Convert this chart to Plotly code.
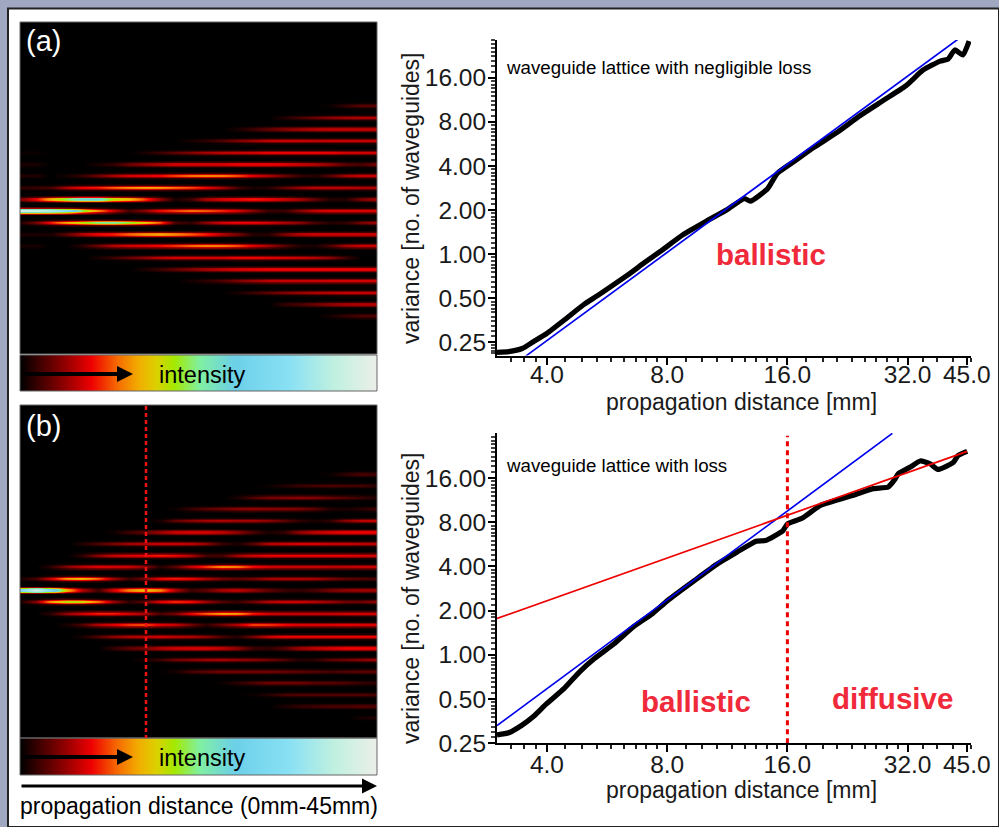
import math
import plotly.graph_objects as go

W, H = 999, 827

# ---------- data ----------
col_frac = [i / 23 for i in range(24)]
lanes_a = {
 9: [0]*20 + [.01,.05,.08,.08],
 8: [0]*17 + [.03,.06,.09,.12,.14,.15,.15],
 7: [0]*14 + [.02,.05,.08,.11,.13,.15,.16,.16,.16,.16],
 6: [0]*11 + [.02,.04,.07,.11,.14,.17,.18,.18,.17,.18,.18,.18,.18],
 5: [.01,.01]+[0]*6 + [.02,.05,.08,.11,.14,.16,.17,.18,.2,.2,.2,.2,.2,.18,.18,.18],
 4: [.02,.02,0,0,0,.02,.04,.09,.12,.15,.18,.18,.18,.18,.2,.2,.2,.19,.17,.15,.12,.07,.06,.1],
 3: [.03,.03,0,.02,.05,.1,.15,.19,.2,.22,.26,.3,.32,.31,.27,.2,.16,.1,.05,.03,.08,.15,.18,.18],
 2: [.04,.05,.06,.15,.2,.22,.27,.31,.33,.32,.28,.25,.2,.14,.06,.02,.03,.08,.13,.16,.16,.16,.15,.15],
 1: [.1,.2,.35,.48,.58,.58,.42,.36,.25,.12,.02,.05,.14,.18,.2,.22,.2,.17,.14,.08,.03,.03,.1,.14],
 0: [1,.97,.9,.8,.5,.32,.18,.06,.12,.22,.26,.3,.28,.24,.2,.12,.05,.05,.12,.18,.2,.2,.2,.2],
 -1: [.03,.1,.22,.34,.42,.5,.52,.46,.38,.26,.06,.04,.12,.18,.2,.2,.18,.15,.12,.06,.03,.04,.1,.14],
 -2: [.02,.02,.02,.08,.15,.2,.22,.27,.31,.33,.3,.26,.22,.15,.1,.03,.03,.1,.15,.17,.17,.17,.17,.17],
 -3: [.02,.02,0,0,.04,.1,.16,.19,.2,.22,.25,.29,.32,.31,.27,.2,.15,.08,.03,.02,.07,.15,.18,.18],
 -4: [0,0,0,0,0,.02,.05,.09,.12,.16,.18,.18,.18,.18,.2,.2,.19,.18,.17,.15,.12,.05,0,0],
 -5: [0]*8 + [.02,.05,.08,.11,.14,.16,.18,.19,.2,.2,.2,.2,.2,.2,.2,.2],
 -6: [0]*11 + [.02,.04,.07,.11,.14,.17,.18,.18,.18,.19,.19,.19,.19],
 -7: [0]*14 + [.02,.05,.08,.11,.13,.15,.16,.17,.17,.17],
 -8: [0]*17 + [.04,.06,.09,.12,.14,.15,.15],
 -9: [0]*20 + [.02,.05,.07,.07],
}
lanes_b = {
 10: [0]*20 + [.01,.04,.06,.05],
 9: [0]*16 + [.01,.03,.05,.06,.07,.06,.06,.04],
 8: [0]*14 + [.02,.07,.1,.11,.12,.11,.09,.07,.05,.03],
 7: [0]*10 + [.01,.05,.08,.1,.12,.13,.12,.12,.11,.08,.03,.02,.04,.06],
 6: [0]*9 + [.02,.08,.12,.14,.15,.14,.14,.12,.08,.04,.02,.04,.12,.16,.17],
 5: [0]*6 + [.01,.05,.08,.13,.17,.18,.18,.16,.12,.06,.02,.04,.12,.16,.18,.2,.2,.2],
 4: [0]*4 + [.03,.07,.11,.14,.16,.18,.18,.17,.13,.05,.02,.08,.16,.18,.19,.19,.18,.18,.17,.17],
 3: [0]*4 + [.04,.12,.17,.19,.2,.22,.2,.15,.06,.06,.14,.18,.2,.2,.2,.2,.2,.2,.19,.18],
 2: [0,0,.04,.12,.17,.2,.19,.18,.13,.03,.08,.18,.25,.33,.31,.22,.19,.18,.18,.18,.17,.17,.18,.18],
 1: [.02,.06,.18,.32,.36,.27,.14,.05,.1,.2,.22,.2,.15,.1,.08,.1,.14,.15,.15,.14,.11,.08,.07,.06],
 0: [.7,.95,.72,.35,.15,.05,.18,.3,.36,.3,.15,.05,.08,.14,.16,.12,.08,.05,.04,.06,.1,.12,.13,.13],
 -1: [.02,.12,.34,.45,.43,.3,.14,.04,.08,.2,.24,.22,.14,.07,.05,.1,.16,.18,.18,.16,.14,.1,.1,.13],
 -2: [0,0,.04,.13,.18,.22,.22,.18,.15,.06,.1,.2,.27,.33,.32,.22,.18,.17,.17,.17,.17,.18,.18,.18],
 -3: [0,0,0,.02,.07,.16,.2,.25,.27,.2,.18,.1,.04,.1,.16,.26,.25,.22,.2,.2,.2,.21,.2,.2],
 -4: [0]*4 + [.02,.07,.12,.15,.16,.18,.16,.15,.12,.06,.03,.1,.17,.2,.2,.2,.2,.2,.2,.2],
 -5: [0]*6 + [.04,.08,.1,.15,.17,.18,.18,.16,.12,.05,.04,.07,.13,.16,.18,.2,.2,.2],
 -6: [0]*8 + [.02,.05,.1,.12,.14,.15,.13,.12,.1,.07,.03,.04,.08,.1,.12,.14],
 -7: [0]*10 + [.02,.06,.08,.1,.1,.1,.1,.09,.08,.07,.06,.07,.08,.08],
 -8: [0]*13 + [.01,.04,.07,.1,.1,.1,.08,.08,.07,.05,.04],
 -9: [0]*15 + [.01,.03,.06,.07,.07,.07,.07,.07,.06],
 -10: [0]*17 + [.02,.04,.05,.06,.06,.07,.06],
 -11: [0]*22 + [.02,.03],
}
bar_ramp = [0, .05, .1, .15, .2, .25, .3, .35, .4, .45, .5, .55, .6, .65, .7, .75, .8, .85, .9, .95, 1]

var_a_x = [3.0,3.21,3.47,3.7,4,4.42,4.93,5.39,6.3,7.03,7.69,8.77,10.02,11.32,12.5,12.92,14.27,15.09,16.67,18.6,21.26,24.27,27.7,31.65,35,38.6,40.4,42,44,45.6]
var_a_y = [.2135,.216,.227,.2527,.288,.355,.45,.527,.705,.878,1.045,1.36,1.68,2.02,2.4,2.3,2.8,3.56,4.32,5.34,6.76,8.8,11.14,14.1,18.1,20.8,21.5,24.8,22.9,28.5]
fit_a_x = [3.54, 42.8]
fit_a_y = [.2015, 29.4]

var_b_x = [3.0,3.21,3.47,3.7,4,4.42,4.83,5.26,5.89,6.58,7.35,8.03,9.37,10.7,11.96,13.36,14.1,15.6,16,17.4,19.35,23.4,26.2,28.6,29.8,30.3,32.5,34.4,36.4,38.1,41.6,42.8,45.1]
var_b_y = [.285,.295,.333,.38,.467,.591,.767,.944,1.19,1.55,1.91,2.35,3.21,4.17,5,5.94,6,7.02,7.79,8.51,10.4,12.2,13.55,13.9,15.85,17.1,19,20.9,20,18.3,20.4,22.8,24.3]
ball_b_x = [3.0, 29.3]
ball_b_y = [.33, 32.2]
diff_b_x = [3.0, 45.1]
diff_b_y = [1.77, 24.3]
cross_x = [16, 16]
cross_y = [.25, 31]

x_ticks = [4, 8, 16, 32, 45]
x_tick_text = ["4.0", "8.0", "16.0", "32.0", "45.0"]
y_ticks = [.25, .5, 1, 2, 4, 8, 16]
y_tick_text = ["0.25", "0.50", "1.00", "2.00", "4.00", "8.00", "16.00"]
x_minor = [3.25, 3.5, 3.75, 4.45, 4.9, 5.33, 5.8, 6.25, 6.67, 7.1, 7.55, 8.9, 9.8, 10.65, 11.6, 12.5, 13.35, 14.2, 15.1,
           17.8, 19.6, 21.3, 23.2, 25, 26.7, 28.4, 30.2, 35, 38, 41.5, 46]
y_minor = ([.2 + .01*i for i in range(5)] + [.25 + .025*i for i in range(10)] + [.5 + .05*i for i in range(10)]
           + [1 + .1*i for i in range(10)] + [2 + .2*i for i in range(10)] + [4 + .4*i for i in range(10)]
           + [8 + .8*i for i in range(10)] + [16 + 1.6*i for i in range(10)])

cscale = [[0, "#000000"], [.08, "#5e0000"], [.2, "#ee0000"], [.27, "#f66800"], [.33, "#f2ac00"], [.38, "#dcd000"],
          [.43, "#a4e800"], [.5, "#80f0a0"], [.6, "#6cd0e8"], [.75, "#88e0f4"], [.88, "#c0f0e0"], [1, "#ecefe9"]]

# ---------- layout geometry (pixels) ----------
PL = dict(heat_a=(20, 377, 22, 354), bar_a=(20, 377, 355, 391),
          heat_b=(20, 377, 405, 738), bar_b=(20, 377, 738, 775),
          var_a=(497, 971, 40, 355.5), var_b=(497, 971, 433, 743.3))
FONT = "Liberation Sans, Arial, sans-serif"


def fx(p):
    return p / W


def fy(p):
    return 1 - p / H


fig = go.Figure()


def lane_matrix(lanes):
    offs = [-.38, -.24, -.13, -.05, 0, .05, .13, .24, .38]
    gain = [0, .15, .55, .92, 1, .92, .55, .15, 0]
    blank = [0] * len(col_frac)
    ys, zs = [-40], [blank]
    for k in sorted(lanes):
        for o, g in zip(offs, gain):
            ys.append(k + o)
            zs.append([v * g for v in lanes[k]])
    ys.append(40)
    zs.append(blank)
    return ys, zs


def add_blank(n, box):
    x0, x1, y0, y1 = box
    ax = dict(visible=False, fixedrange=True, automargin=False)
    fig.layout[f"xaxis{n}"] = dict(domain=[fx(x0), fx(x1)], anchor=f"y{n}", **ax)
    fig.layout[f"yaxis{n}"] = dict(domain=[fy(y1), fy(y0)], anchor=f"x{n}", **ax)


# heatmaps
ya, za = lane_matrix(lanes_a)
yb, zb = lane_matrix(lanes_b)
hm = dict(colorscale=cscale, zmin=0, zmax=1, zsmooth="best", showscale=False, hoverinfo="skip")
fig.add_trace(go.Heatmap(x=col_frac, y=ya, z=za, xaxis="x1", yaxis="y1", **hm))
fig.add_trace(go.Heatmap(x=bar_ramp, y=[0, 1], z=[bar_ramp, bar_ramp], xaxis="x2", yaxis="y2", **hm))
fig.add_trace(go.Heatmap(x=col_frac, y=yb, z=zb, xaxis="x3", yaxis="y3", **hm))
fig.add_trace(go.Heatmap(x=bar_ramp, y=[0, 1], z=[bar_ramp, bar_ramp], xaxis="x4", yaxis="y4", **hm))

for n, key in zip((1, 2, 3, 4), ("heat_a", "bar_a", "heat_b", "bar_b")):
    add_blank(n, PL[key])
fig.layout.xaxis1.range = [0, 1]
fig.layout.xaxis3.range = [0, 1]
fig.layout.xaxis2.range = [0, 1]
fig.layout.xaxis4.range = [0, 1]
fig.layout.yaxis2.range = [0, 1]
fig.layout.yaxis4.range = [0, 1]
fig.layout.yaxis1.range = [(210.7 - 354) / 11.67, (210.7 - 22) / 11.67]
fig.layout.yaxis3.range = [(590 - 738) / 11.6, (590 - 405) / 11.6]

# variance plots
BLK = dict(color="black", width=5.2, shape="spline", smoothing=.5)
BLU = dict(color="#0000ee", width=1.7)
RED = dict(color="#ee0000", width=1.7)
ln = dict(mode="lines", hoverinfo="skip")
fig.add_trace(go.Scatter(x=var_a_x, y=var_a_y, line=BLK, xaxis="x5", yaxis="y5", **ln))
fig.add_trace(go.Scatter(x=fit_a_x, y=fit_a_y, line=BLU, xaxis="x5", yaxis="y5", **ln))
fig.add_trace(go.Scatter(x=var_b_x, y=var_b_y, line=BLK, xaxis="x6", yaxis="y6", **ln))
fig.add_trace(go.Scatter(x=ball_b_x, y=ball_b_y, line=BLU, xaxis="x6", yaxis="y6", **ln))
fig.add_trace(go.Scatter(x=diff_b_x, y=diff_b_y, line=RED, xaxis="x6", yaxis="y6", **ln))
fig.add_trace(go.Scatter(x=cross_x, y=cross_y, line=dict(color="#ee0000", width=3, dash="5px,4px"),
                         xaxis="x6", yaxis="y6", **ln))


def log_axes(n, box, xr, yr, xstand):
    x0, x1, y0, y1 = box
    common = dict(type="log", showgrid=False, zeroline=False, showline=True, linecolor="black", linewidth=2,
                  ticks="outside", ticklen=7, tickwidth=2, tickcolor="black", fixedrange=True, automargin=False,
                  tickfont=dict(family=FONT, size=24.5, color="#1a1a1a"), tickmode="array")
    fig.layout[f"xaxis{n}"] = dict(
        domain=[fx(x0), fx(x1)], anchor=f"y{n}", range=[math.log10(v) for v in xr],
        tickvals=x_ticks, ticktext=x_tick_text, ticklabelstandoff=xstand,
        minor=dict(tickmode="array", tickvals=x_minor, ticks="outside", ticklen=4, tickwidth=1.5, tickcolor="#222"),
        **common)
    fig.layout[f"yaxis{n}"] = dict(
        domain=[fy(y1), fy(y0)], anchor=f"x{n}", range=[math.log10(v) for v in yr],
        tickvals=y_ticks, ticktext=y_tick_text, ticklabelstandoff=-3,
        minor=dict(tickmode="array", tickvals=y_minor, ticks="outside", ticklen=4, tickwidth=1.5, tickcolor="#444"),
        **common)


log_axes(5, PL["var_a"], (3.0, 46.1), (.2034, 29), -11)
log_axes(6, PL["var_b"], (3.0, 46.1), (.25, 32.4), -9)

shapes = [
    dict(type="rect", xref="paper", yref="paper", x0=fx(8), x1=1, y0=fy(8.5), y1=0,
         fillcolor="white", line=dict(color="#222222", width=2), layer="below"),
]
for key in ("heat_a", "bar_a", "heat_b", "bar_b"):
    x0, x1, y0, y1 = PL[key]
    shapes.append(dict(type="rect", xref="paper", yref="paper", x0=fx(x0), x1=fx(x1), y0=fy(y0), y1=fy(y1),
                       line=dict(color="#666666", width=1), fillcolor="rgba(0,0,0,0)", layer="above"))
shapes.append(dict(type="line", xref="paper", yref="paper", x0=fx(146), x1=fx(146), y0=fy(406), y1=fy(738),
                   line=dict(color="#ee1111", width=2.5, dash="4px,3px")))


def label(text, px, py, size, color="black", bold=False, anchor="left", angle=0):
    return dict(text=f"<b>{text}</b>" if bold else text, x=fx(px), y=fy(py), xref="paper", yref="paper",
                showarrow=False, xanchor=anchor, yanchor="middle", textangle=angle,
                font=dict(family=FONT, size=size, color=color))


def arrow(x0, x1, py, width, size):
    return dict(x=fx(x1), y=fy(py), ax=x0 - x1, ay=0, xref="paper", yref="paper", axref="pixel", ayref="pixel",
                showarrow=True, arrowhead=2, arrowsize=size, arrowwidth=width, arrowcolor="black", text="")


RT = "#f02a3a"
TXT = "#1a1a1a"
annotations = [
    label("(a)", 24, 41, 29, "white"), label("(b)", 24, 426, 29, "white"),
    label("intensity", 202, 375, 23.5, anchor="center"), label("intensity", 202, 758, 23.5, anchor="center"),
    label("waveguide lattice with negligible loss", 504, 68, 18.7),
    label("waveguide lattice with loss", 504, 465, 18.7),
    label("ballistic", 771, 255, 29.5, RT, True, "center"),
    label("ballistic", 696, 701, 29.5, RT, True, "center"),
    label("diffusive", 892, 698, 29.5, RT, True, "center"),
    label("propagation distance (0mm-45mm)", 198.5, 806, 23, anchor="center"),
    label("propagation distance [mm]", 741.5, 402, 23, TXT, anchor="center"),
    label("propagation distance [mm]", 741.5, 790, 23, TXT, anchor="center"),
    label("variance [no. of waveguides]", 411, 198, 23, TXT, anchor="center", angle=-90),
    label("variance [no. of waveguides]", 411, 598, 23, TXT, anchor="center", angle=-90),
    arrow(22, 133, 374, 4, .8), arrow(22, 133, 757, 4, .8), arrow(20, 377, 786, 3, 1),
]

fig.update_layout(width=W, height=H, margin=dict(l=0, r=0, t=0, b=0, pad=0, autoexpand=False), autosize=False, showlegend=False,
                  paper_bgcolor="#9fa7c1", plot_bgcolor="white", shapes=shapes, annotations=annotations)
fig.write_html("out.html", config={"displayModeBar": False}, post_script="document.body.style.margin='0';")
